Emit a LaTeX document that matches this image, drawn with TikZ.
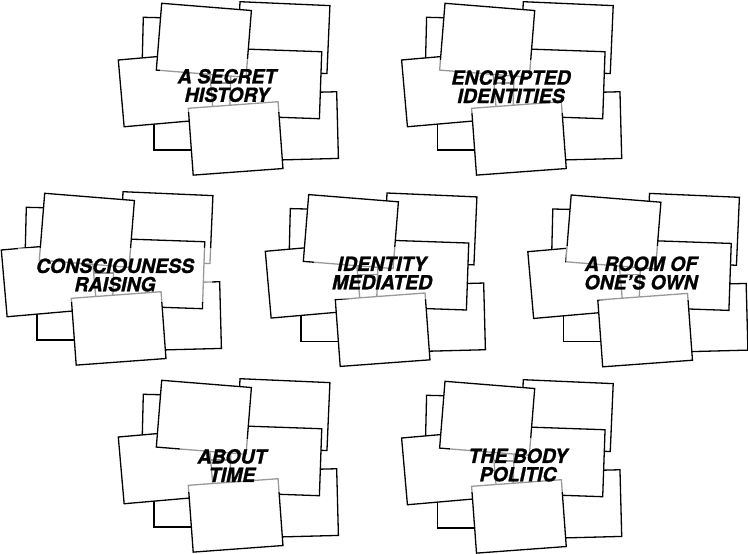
\documentclass[tikz,border=0pt]{standalone}
\usepackage{fontspec}
\newfontfamily\cardfont[BoldItalicFeatures={FakeBold=1}]{TeX Gyre Heros}

\tikzset{
  card/.style={draw=black, fill=white, line width=1.3pt},
  caption/.style={font=\cardfont\bfseries\itshape\fontsize{19.5}{18.4}\selectfont,
    align=center, fill=white, fill opacity=0.6, text opacity=1,
    inner xsep=18pt, inner ysep=10pt},
  % one pile of eight cards, back to front
  pics/cardpile/.style={code={
    \draw[card, rotate around={-2.5:(240,1.7)}] (240,1.7) rectangle ++(90,68);
    \draw[card, rotate around={-1.4:(143.3,17.3)}] (143.3,17.3) rectangle ++(90,67);
    \draw[card] (154,83) rectangle ++(90,67);
    \draw[card, rotate around={1.5:(246.7,94.1)}] (246.7,94.1) rectangle ++(90,66.7);
    \draw[card, rotate around={-2:(231.8,48.6)}] (231.8,48.6) rectangle ++(90,67);
    \draw[card, rotate around={5:(118.3,60)}] (118.3,60) rectangle ++(90,67);
    \draw[card, rotate around={-4.6:(161.7,3.3)}] (161.7,3.3) rectangle ++(90,67);
    \draw[card, rotate around={4.2:(188.3,108.3)}] (188.3,108.3) rectangle ++(90,67);
  }}
}

\begin{document}
\begin{tikzpicture}[x=1pt, y=-1pt]
  \useasboundingbox (0,0) rectangle (748,554);

  % top row
  \pic at (0,0) {cardpile};
  \node[caption] (secret) at (227,85.5) {A SECRET\\HISTORY};
  \pic at (283.3,0) {cardpile};
  \node[caption] (encrypted) at (511,86.7) {ENCRYPTED\\IDENTITIES};

  % middle row
  \pic at (-117,190) {cardpile};
  \node[caption] (raising) at (115,275) {CONSCIOUNESS\\RAISING};
  \pic at (147,191.3) {cardpile};
  \node[caption] (mediated) at (382,273) {IDENTITY\\MEDIATED};
  \pic at (409.5,191.7) {cardpile};
  \node[caption] (room) at (641,273) {A ROOM OF\\ONE’S OWN};

  % bottom row
  \pic at (0,377) {cardpile};
  \node[caption] (time) at (232,465.5) {ABOUT\\TIME};
  \pic at (283.3,378) {cardpile};
  \node[caption] (politic) at (518,465) {THE BODY\\POLITIC};
\end{tikzpicture}
\end{document}
